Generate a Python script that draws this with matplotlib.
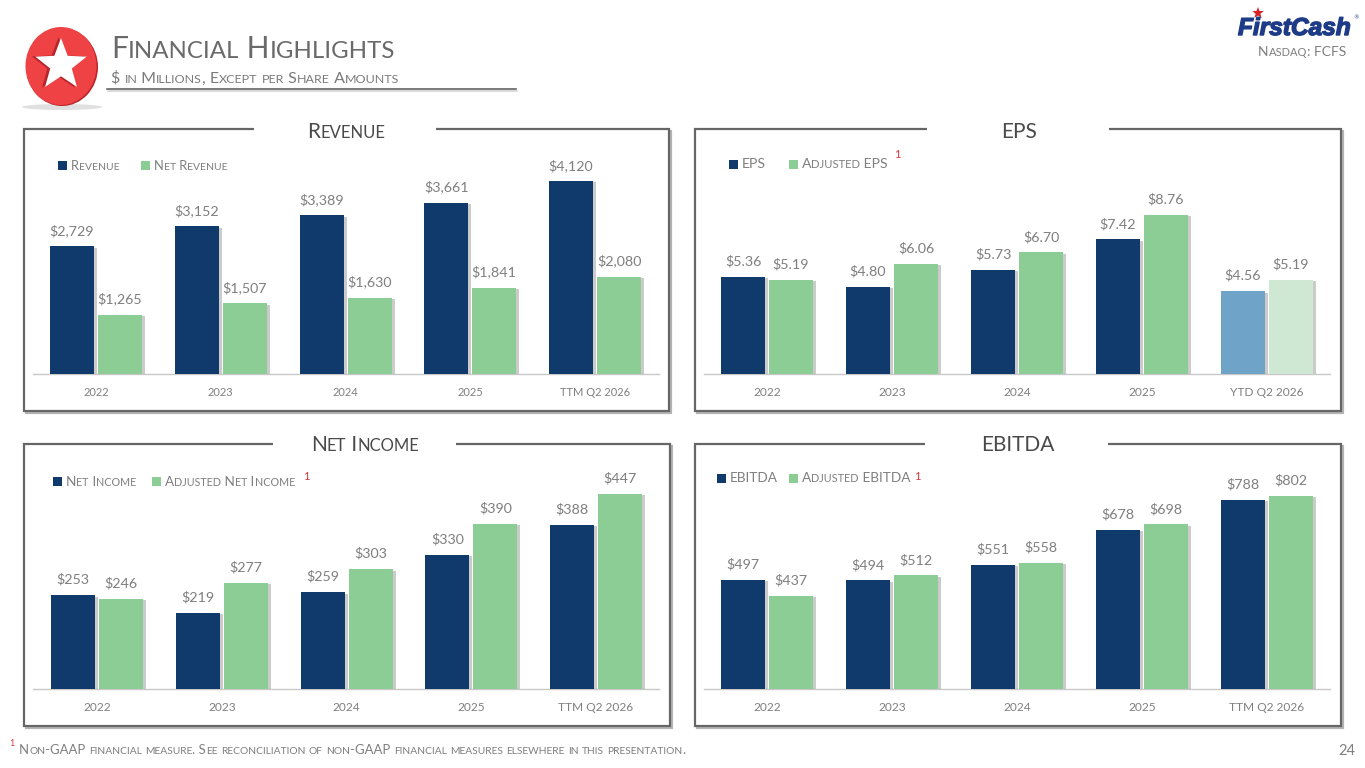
import numpy as np
import matplotlib
matplotlib.use("Agg")
import matplotlib.pyplot as plt
from matplotlib.patches import Ellipse, Polygon, Rectangle
from matplotlib.path import Path
from matplotlib.patches import PathPatch
import matplotlib.patheffects as pe

# ---- data ----
revenue_years = ["2022", "2023", "2024", "2025", "TTM Q2 2026"]
revenue = [2729, 3152, 3389, 3661, 4120]
net_revenue = [1265, 1507, 1630, 1841, 2080]

eps_years = ["2022", "2023", "2024", "2025", "YTD Q2 2026"]
eps = [5.36, 4.80, 5.73, 7.42, 4.56]
adj_eps = [5.19, 6.06, 6.70, 8.76, 5.19]

ni_years = ["2022", "2023", "2024", "2025", "TTM Q2 2026"]
net_income = [253, 219, 259, 330, 388]
adj_net_income = [246, 277, 303, 390, 447]

ebitda_years = ["2022", "2023", "2024", "2025", "TTM Q2 2026"]
ebitda = [497, 494, 551, 678, 788]
adj_ebitda = [437, 512, 558, 698, 802]

NAVY = "#0F3A6B"
GREEN = "#8CCD96"
NAVY_L = "#6FA3C7"
GREEN_L = "#CFE8D3"
GRAY = "#7F7F7F"
DARK = "#4A4A4A"
RED = "#D9383C"
FONT = "Lato"
W, H = 1365, 768

plt.rcParams["font.family"] = [FONT, "DejaVu Sans"]
fig = plt.figure(figsize=(W / 100, H / 100), dpi=100, facecolor="white")
bg = fig.add_axes([0, 0, 1, 1], zorder=0)
bg.set_xlim(0, W)
bg.set_ylim(H, 0)
bg.axis("off")
rend = fig.canvas.get_renderer()


def adv(s, size, weight):
    a = bg.text(0, 0, "|" + s + "|", fontsize=size, fontweight=weight)
    b = bg.text(0, 0, "||", fontsize=size, fontweight=weight)
    w = a.get_window_extent(rend).width - b.get_window_extent(rend).width
    a.remove()
    b.remove()
    return w


def smallcaps(x, y, text, size, color=GRAY, ha="left", weight="normal", ratio=0.8):
    runs = []
    for ch in text:
        small = ch.islower()
        if runs and runs[-1][1] == small:
            runs[-1][0] += ch
        else:
            runs.append([ch, small])
    parts = [(r.upper(), size * ratio if s else size) for r, s in runs]
    widths = [adv(r, sz, weight) for r, sz in parts]
    if ha == "center":
        x -= sum(widths) / 2
    for (r, sz), w in zip(parts, widths):
        bg.text(x, y, r, fontsize=sz, color=color, va="baseline", ha="left", fontweight=weight)
        x += w


def star_pts(cx, cy, R, r=None):
    r = R * 0.42 if r is None else r
    ang = np.deg2rad(-90 + np.arange(10) * 36)
    rad = np.where(np.arange(10) % 2 == 0, R, r)
    return np.c_[cx + rad * np.cos(ang), cy + rad * np.sin(ang)]


def panel(box, gap, title, title_x, title_y):
    l, t, r, b = box
    bg.plot([l + 2, r + 2, r + 2], [b + 2, b + 2, t + 2], color="#777777", lw=1.6, alpha=0.55,
            solid_joinstyle="miter")
    verts = [(gap[0], t), (l, t), (l, b), (r, b), (r, t), (gap[1], t)]
    codes = [Path.MOVETO] + [Path.LINETO] * 5
    bg.add_patch(PathPatch(Path(verts, codes), fill=False, edgecolor="#666666", lw=1.6,
                           joinstyle="miter", capstyle="butt"))
    smallcaps(title_x, title_y, title, 15, color=DARK, ha="center")


def legend(items, y, size):
    for sq, color, tx, label in items:
        bg.add_patch(Rectangle((sq, y - 4.5), 9, 9, color=color, lw=0))
        smallcaps(tx, y + 4.5, label, size, color=GRAY)


def sup(x, y):
    bg.text(x, y, "1", fontsize=8, color=RED, ha="center", va="center")


def chart(left, right, base, top_y, center0, spacing, ymin, px_per_unit,
          cats, a, b, fmt, tick_size=8.6, a_colors=None, b_colors=None):
    ax = fig.add_axes([left / W, 1 - base / H, (right - left) / W, (base - top_y) / H], zorder=2)
    ax.patch.set_alpha(0)
    ax.set_xlim((left - center0) / spacing, (right - center0) / spacing)
    ax.set_ylim(ymin, ymin + (base - top_y) / px_per_unit)
    x = np.arange(len(cats))
    bw, off = 44 / spacing, 24 / spacing
    shadow = [pe.SimplePatchShadow(offset=(2.2, -1.0), shadow_rgbFace="#999999", alpha=0.5), pe.Normal()]
    a_colors = a_colors or [NAVY] * len(a)
    b_colors = b_colors or [GREEN] * len(b)
    ax.bar(x - off, np.array(a) - ymin, bw, bottom=ymin, color=a_colors, path_effects=shadow, zorder=2)
    ax.bar(x + off, np.array(b) - ymin, bw, bottom=ymin, color=b_colors, path_effects=shadow, zorder=2)
    for xs, vals in ((x - off, a), (x + off, b)):
        for xi, v in zip(xs, vals):
            ax.annotate(fmt(v), (xi, v), xytext=(0, 11.2), textcoords="offset points",
                        ha="center", va="center", fontsize=10.3, color=GRAY)
    ax.set_xticks(x, cats)
    ax.set_yticks([])
    for s in ("top", "left", "right"):
        ax.spines[s].set_visible(False)
    ax.spines["bottom"].set_color("#C8C8C8")
    ax.spines["bottom"].set_linewidth(1.0)
    ax.spines["bottom"].set_zorder(1)
    ax.tick_params(axis="x", length=0, pad=9.2, labelsize=tick_size, labelcolor=GRAY)
    return ax


# ---- header ----
bg.add_patch(Ellipse((62, 107), 80, 6, color="#999999", alpha=0.3, lw=0))
bg.add_patch(Ellipse((62, 67), 72, 78, color="#B9262B", lw=0))
bg.add_patch(Ellipse((61, 66), 71, 78, color="#EE4245", lw=0))
bg.add_patch(Polygon(star_pts(58.5, 65, 28), color="#B7252A", lw=0))
bg.add_patch(Polygon(star_pts(61, 65, 27), color="white", lw=0))
smallcaps(111, 58, "Financial Highlights", 21.6, color="#6A6A6A")
smallcaps(111, 83, "$ in Millions, Except per Share Amounts", 11.5, color="#7A7A7A", ratio=0.78)
bg.plot([107, 516], [89, 89], color="#555555", lw=1.1,
        path_effects=[pe.SimpleLineShadow(offset=(0.5, -1.5), shadow_color="#888888", alpha=0.4), pe.Normal()])

bg.text(1238, 35, "FirstCash", fontsize=17.6, color="#1D3B86", family="Liberation Sans",
        fontweight="bold", style="italic", va="baseline",
        path_effects=[pe.withStroke(linewidth=1.0, foreground="#1D3B86")])
bg.text(1353, 18, "®", fontsize=4, color="#1D3B86", ha="left", va="center", family="DejaVu Sans")
bg.add_patch(Polygon(star_pts(1258, 13, 6), color="#D8232A", lw=0))
smallcaps(1258, 56, "Nasdaq: FCFS", 10.0, color=GRAY, ratio=0.8)

# ---- panels ----
panel((24, 129, 669, 411), (254, 436), "Revenue", 346, 138)
panel((695, 129, 1341, 411), (927, 1109), "EPS", 1019, 138)
panel((24, 444, 670, 726), (273, 456), "Net Income", 365, 451)
panel((695, 444, 1341, 726), (925, 1108), "EBITDA", 1018, 451)

legend([(58, NAVY, 71, "Revenue"), (141, GREEN, 154, "Net Revenue")], 165, 9.3)
legend([(729, NAVY, 742, "EPS"), (789, GREEN, 802, "Adjusted EPS")], 164, 10.1)
sup(897, 155)
legend([(53, NAVY, 66, "Net Income"), (152, GREEN, 165, "Adjusted Net Income")], 481, 9.7)
sup(306, 476)
legend([(717, NAVY, 730, "EBITDA"), (789, GREEN, 802, "Adjusted EBITDA")], 478, 9.8)
sup(917, 476)

chart(33, 659, 374, 140, 96, 124.75, 0, 193 / 4120, revenue_years, revenue, net_revenue,
      lambda v: f"${v:,}", tick_size=8.0)
chart(704, 1330, 374, 140, 767, 125, 0, 159 / 8.76, eps_years, eps, adj_eps,
      lambda v: f"${v:.2f}", a_colors=[NAVY] * 4 + [NAVY_L], b_colors=[GREEN] * 4 + [GREEN_L])
chart(33, 659, 689, 455, 97, 124.75, 73.4, 0.522, ni_years, net_income, adj_net_income,
      lambda v: f"${v}")
chart(704, 1330, 689, 455, 767, 125, 97.6, 0.274, ebitda_years, ebitda, adj_ebitda,
      lambda v: f"${v}")

# ---- footer ----
bg.text(12, 744, "1", fontsize=6.5, color=RED, ha="center", va="center")
smallcaps(19, 754, "Non-GAAP financial measure. See reconciliation of non-GAAP financial measures elsewhere in this presentation.",
          9.45, color=GRAY, ratio=0.78)
bg.text(1355, 751, "24", fontsize=10.5, color=GRAY, ha="right", va="center")

fig.savefig("out.png", dpi=100)
